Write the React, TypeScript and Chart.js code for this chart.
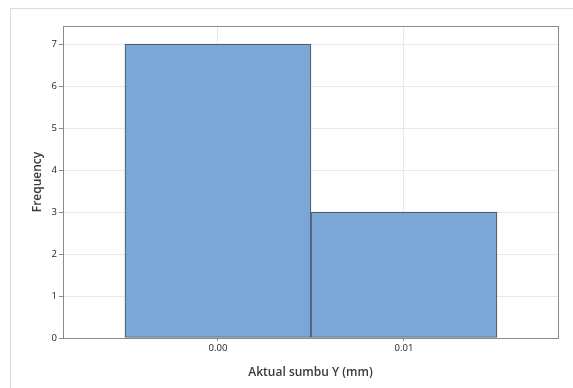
import React, { useEffect, useRef } from "react";
import { Chart, registerables } from "chart.js";

Chart.register(...registerables);

const binCenters = [0.0, 0.01];
const frequencies = [7, 3];
const xTickValues = [0.0, 0.01];
const xTickLabels = ["0.00", "0.01"];
const yTickValues = [0, 1, 2, 3, 4, 5, 6, 7];

const frameRect = {
  id: "frameRect",
  afterDatasetsDraw(chart: any) {
    const { ctx, chartArea } = chart;
    ctx.save();
    ctx.strokeStyle = "#8a8a8a";
    ctx.lineWidth = 1;
    ctx.strokeRect(
      Math.round(chartArea.left) + 0.5,
      Math.round(chartArea.top) + 0.5,
      Math.round(chartArea.right - chartArea.left),
      Math.round(chartArea.bottom - chartArea.top)
    );
    ctx.restore();
  },
};

export default function App() {
  const ref = useRef<HTMLCanvasElement | null>(null);

  useEffect(() => {
    if (!ref.current) return;
    const chart = new Chart(ref.current, {
      type: "bar",
      data: {
        datasets: [
          {
            data: binCenters.map((x, i) => ({ x, y: frequencies[i] })),
            backgroundColor: "#7ba6d8",
            borderColor: "#4f5d6c",
            borderWidth: 1.2,
            borderSkipped: false,
            categoryPercentage: 1,
            barPercentage: 1,
          } as any,
        ],
      },
      plugins: [frameRect],
      options: {
        animation: false,
        responsive: false,
        maintainAspectRatio: false,
        layout: { padding: { left: 0, top: 26, right: 15, bottom: 0 } },
        plugins: {
          legend: { display: false },
          tooltip: { enabled: false },
        },
        scales: {
          x: {
            type: "linear",
            offset: false,
            min: -0.00833,
            max: 0.01828,
            afterBuildTicks: (scale: any) => {
              scale.ticks = xTickValues.map((v) => ({ value: v }));
            },
            afterFit: (scale: any) => {
              scale.height = 50;
            },
            ticks: {
              callback: (v: any) => {
                const i = xTickValues.findIndex((t) => Math.abs(t - v) < 1e-9);
                return i >= 0 ? xTickLabels[i] : "";
              },
              font: { family: "Open Sans", size: 9.5 },
              color: "#222222",
              padding: 2,
              maxRotation: 0,
              autoSkip: false,
            },
            grid: {
              color: "#e8e8e8",
              tickColor: "#8a8a8a",
              tickLength: 3,
              offset: false,
            },
            border: { color: "#8a8a8a" },
            title: {
              display: true,
              text: "Aktual sumbu Y (mm)",
              font: { family: "Open Sans", size: 12, weight: "600" },
              color: "#3a3a3a",
              padding: { top: 0, bottom: 8 },
            },
          },
          y: {
            type: "linear",
            min: 0,
            max: 7.43,
            afterBuildTicks: (scale: any) => {
              scale.ticks = yTickValues.map((v) => ({ value: v }));
            },
            afterFit: (scale: any) => {
              scale.width = 63;
            },
            ticks: {
              font: { family: "Open Sans", size: 9.5 },
              color: "#222222",
              padding: 2,
              autoSkip: false,
            },
            grid: {
              color: "#e8e8e8",
              tickColor: "#8a8a8a",
              tickLength: 4,
            },
            border: { color: "#8a8a8a" },
            title: {
              display: true,
              text: "Frequency",
              font: { family: "Open Sans", size: 12, weight: "600" },
              color: "#3a3a3a",
              padding: { top: 30, bottom: 0 },
            },
          },
        },
      } as any,
    });
    return () => chart.destroy();
  }, []);

  return (
    <div style={{ position: "fixed", left: 0, top: 0, width: 573, height: 388, overflow: "hidden", background: "#fff" }}>
      <div
        style={{
          position: "absolute",
          left: 10,
          top: 8,
          width: 620,
          height: 420,
          border: "1px solid #dcdcdc",
        }}
      />
      <canvas ref={ref} width={573} height={388} style={{ position: "absolute", left: 0, top: 0, width: 573, height: 388 }} />
    </div>
  );
}
